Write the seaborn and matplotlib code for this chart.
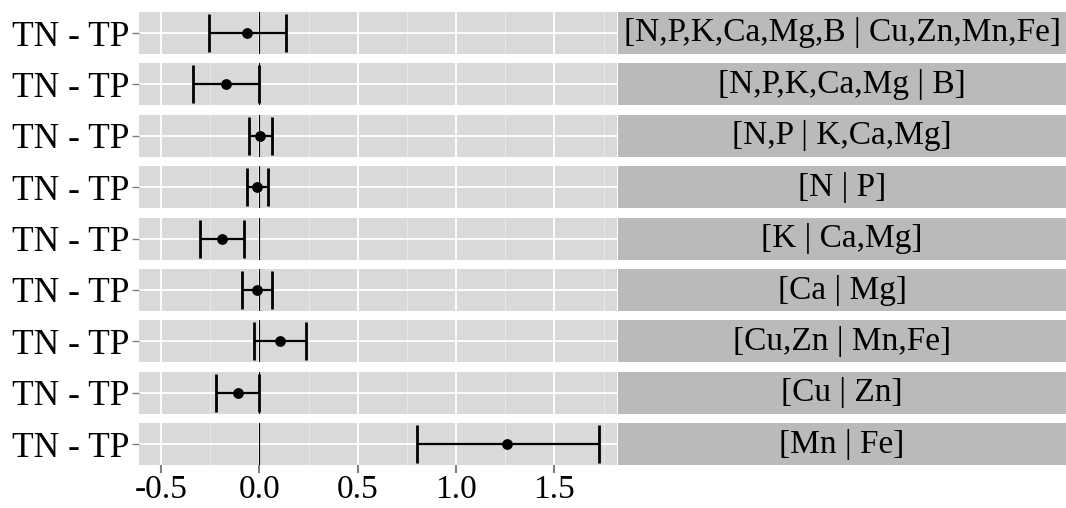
import numpy as np
import pandas as pd
import matplotlib
matplotlib.use("Agg")
import matplotlib.pyplot as plt
from matplotlib.ticker import MultipleLocator
import seaborn as sns

# data
comparisons = [
    "[N,P,K,Ca,Mg,B | Cu,Zn,Mn,Fe]",
    "[N,P,K,Ca,Mg | B]",
    "[N,P | K,Ca,Mg]",
    "[N | P]",
    "[K | Ca,Mg]",
    "[Ca | Mg]",
    "[Cu,Zn | Mn,Fe]",
    "[Cu | Zn]",
    "[Mn | Fe]",
]
contrast = "TN - TP"
estimate = [-0.061, -0.168, 0.005, -0.012, -0.188, -0.013, 0.106, -0.109, 1.26]
lower = [-0.257, -0.338, -0.051, -0.064, -0.300, -0.088, -0.029, -0.221, 0.80]
upper = [0.134, 0.0, 0.065, 0.043, -0.077, 0.066, 0.238, 0.0, 1.725]
x_ticks = [-0.5, 0.0, 0.5, 1.0, 1.5]

df = pd.DataFrame({
    "comparison": comparisons,
    "contrast": contrast,
    "estimate": estimate,
    "lower": lower,
    "upper": upper,
})

sns.set_theme(style="darkgrid")
plt.rcParams["font.family"] = ["Liberation Serif", "DejaVu Serif"]

W, H = 1066, 508
fig = plt.figure(figsize=(W / 100, H / 100), dpi=100)

panel_bg = "#d9d9d9"
strip_bg = "#bababa"
left_px, right_px = 139, 617
strip_l, strip_r = 618, 1066
top0, step, ph = 12, 51.4, 42

for i, row in df.iterrows():
    top = top0 + step * i
    bottom = H - (top + ph)
    ax = fig.add_axes([left_px / W, bottom / H, (right_px - left_px) / W, ph / H])
    ax.set_facecolor(panel_bg)
    ax.axvline(0, color="black", lw=0.8, zorder=2)
    ax.errorbar(row["estimate"], 0,
                xerr=[[row["estimate"] - row["lower"]], [row["upper"] - row["estimate"]]],
                fmt="none", ecolor="black", elinewidth=1.6, capsize=13.6, capthick=2.0, zorder=3)
    sns.scatterplot(x=[row["estimate"]], y=[0], ax=ax, color="black", s=60,
                    edgecolor="black", linewidth=0, zorder=4)
    ax.set_xlim(-0.612, 1.818)
    ax.set_ylim(-0.5, 0.5)
    ax.set_xticks(x_ticks)
    ax.xaxis.set_minor_locator(MultipleLocator(0.25))
    ax.set_yticks([0])
    ax.set_yticklabels([row["contrast"]], fontsize=25.5, color="black")
    ax.grid(which="major", color="white", lw=1.3)
    ax.grid(which="minor", axis="x", color="#ececec", lw=0.6)
    ax.tick_params(axis="y", which="major", left=True, length=5, width=1, color="#7f7f7f", pad=2)
    ax.tick_params(axis="x", which="minor", bottom=False)
    if i == len(df) - 1:
        ax.set_xticklabels([f"{t:.1f}" for t in x_ticks], fontsize=24, color="black")
        ax.tick_params(axis="x", which="major", bottom=True, length=6, width=1.5, color="#7f7f7f", pad=1)
    else:
        ax.tick_params(axis="x", which="major", bottom=False, labelbottom=False)
    ax.set_xlabel("")
    ax.set_ylabel("")
    for s in ax.spines.values():
        s.set_visible(False)

    sax = fig.add_axes([strip_l / W, bottom / H, (strip_r - strip_l) / W, ph / H])
    sax.set_facecolor(strip_bg)
    sax.set_xticks([])
    sax.set_yticks([])
    sax.grid(False)
    for s in sax.spines.values():
        s.set_visible(False)
    sax.text(0.5, 0.5, row["comparison"], ha="center", va="center",
             fontsize=24, color="black", transform=sax.transAxes)

fig.savefig("out.png", dpi=100, facecolor="white")
